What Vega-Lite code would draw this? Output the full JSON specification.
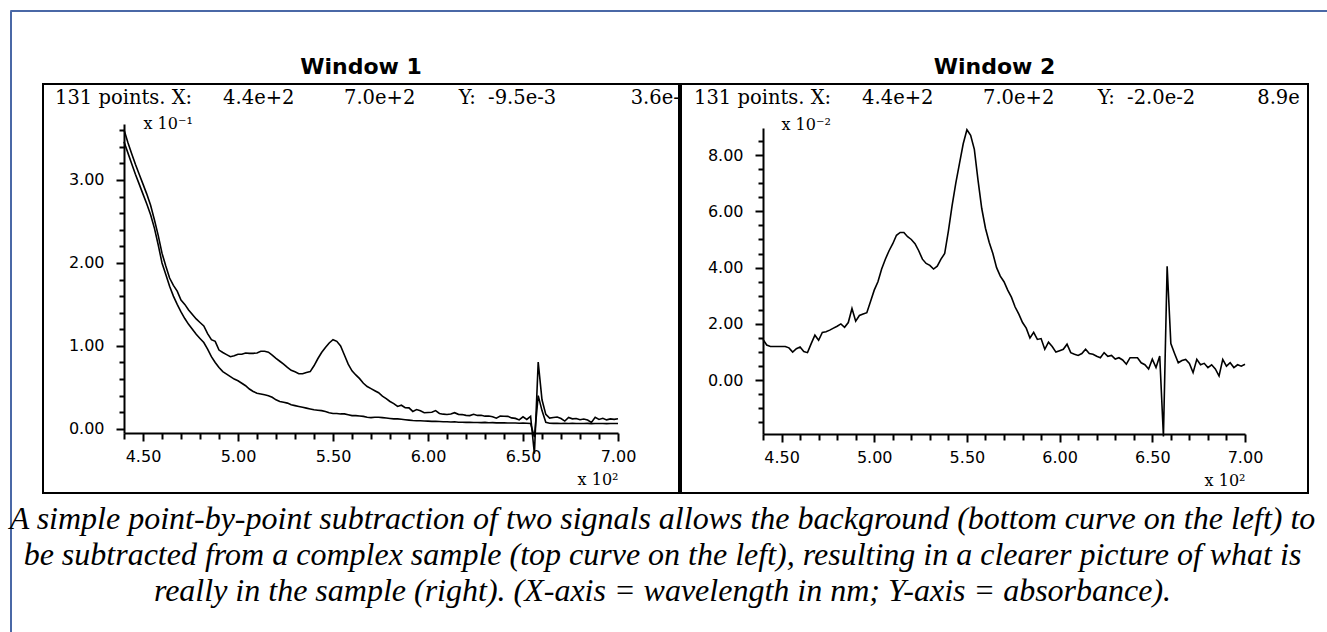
{
  "$schema": "https://vega.github.io/schema/vega-lite/v6.json",
  "background": "white",
  "padding": {"left": 9, "top": 9, "right": 0, "bottom": 0},
  "bounds": "flush",
  "spacing": 0,
  "config": {
    "view": {"stroke": "black", "strokeWidth": 2},
    "axis": {
      "domainColor": "black", "domainWidth": 2,
      "tickColor": "black", "tickWidth": 2,
      "labelColor": "black", "labelFont": "DejaVu Sans", "labelFontSize": 16,
      "titleColor": "black", "titleFont": "DejaVu Serif", "titleFontSize": 16, "titleFontWeight": "normal",
      "grid": false, "labelFlush": false, "labelOverlap": false
    }
  },
  "datasets": {
    "spectra": [
      {"nm": 440, "sample": 0.3605, "background": 0.346, "difference": 0.0145},
      {"nm": 442, "sample": 0.3455, "background": 0.333, "difference": 0.0125},
      {"nm": 444, "sample": 0.332, "background": 0.320, "difference": 0.012},
      {"nm": 446, "sample": 0.319, "background": 0.307, "difference": 0.012},
      {"nm": 448, "sample": 0.307, "background": 0.295, "difference": 0.012},
      {"nm": 450, "sample": 0.295, "background": 0.283, "difference": 0.012},
      {"nm": 452, "sample": 0.283, "background": 0.271, "difference": 0.012},
      {"nm": 454, "sample": 0.2695, "background": 0.258, "difference": 0.0115},
      {"nm": 456, "sample": 0.252, "background": 0.242, "difference": 0.010},
      {"nm": 458, "sample": 0.2332, "background": 0.222, "difference": 0.0112},
      {"nm": 460, "sample": 0.2118, "background": 0.200, "difference": 0.0118},
      {"nm": 462, "sample": 0.1962, "background": 0.186, "difference": 0.0102},
      {"nm": 464, "sample": 0.1818, "background": 0.172, "difference": 0.0098},
      {"nm": 466, "sample": 0.173, "background": 0.160, "difference": 0.013},
      {"nm": 468, "sample": 0.166, "background": 0.150, "difference": 0.016},
      {"nm": 470, "sample": 0.1552, "background": 0.141, "difference": 0.0142},
      {"nm": 472, "sample": 0.150, "background": 0.133, "difference": 0.017},
      {"nm": 474, "sample": 0.1432, "background": 0.126, "difference": 0.0172},
      {"nm": 476, "sample": 0.1378, "background": 0.120, "difference": 0.0178},
      {"nm": 478, "sample": 0.1325, "background": 0.114, "difference": 0.0185},
      {"nm": 480, "sample": 0.1282, "background": 0.109, "difference": 0.0192},
      {"nm": 482, "sample": 0.124, "background": 0.104, "difference": 0.020},
      {"nm": 484, "sample": 0.1148, "background": 0.096, "difference": 0.0188},
      {"nm": 486, "sample": 0.1075, "background": 0.087, "difference": 0.0205},
      {"nm": 488, "sample": 0.1055, "background": 0.080, "difference": 0.0255},
      {"nm": 490, "sample": 0.095, "background": 0.074, "difference": 0.021},
      {"nm": 492, "sample": 0.092, "background": 0.069, "difference": 0.023},
      {"nm": 494, "sample": 0.0895, "background": 0.066, "difference": 0.0235},
      {"nm": 496, "sample": 0.087, "background": 0.063, "difference": 0.024},
      {"nm": 498, "sample": 0.088, "background": 0.060, "difference": 0.028},
      {"nm": 500, "sample": 0.090, "background": 0.058, "difference": 0.032},
      {"nm": 502, "sample": 0.090, "background": 0.055, "difference": 0.035},
      {"nm": 504, "sample": 0.0915, "background": 0.052, "difference": 0.0395},
      {"nm": 506, "sample": 0.091, "background": 0.048, "difference": 0.043},
      {"nm": 508, "sample": 0.091, "background": 0.045, "difference": 0.046},
      {"nm": 510, "sample": 0.0915, "background": 0.043, "difference": 0.0485},
      {"nm": 512, "sample": 0.0935, "background": 0.042, "difference": 0.0515},
      {"nm": 514, "sample": 0.0935, "background": 0.041, "difference": 0.0525},
      {"nm": 516, "sample": 0.0925, "background": 0.040, "difference": 0.0525},
      {"nm": 518, "sample": 0.089, "background": 0.038, "difference": 0.051},
      {"nm": 520, "sample": 0.085, "background": 0.035, "difference": 0.050},
      {"nm": 522, "sample": 0.0815, "background": 0.033, "difference": 0.0485},
      {"nm": 524, "sample": 0.078, "background": 0.032, "difference": 0.046},
      {"nm": 526, "sample": 0.074, "background": 0.031, "difference": 0.043},
      {"nm": 528, "sample": 0.0705, "background": 0.029, "difference": 0.0415},
      {"nm": 530, "sample": 0.0688, "background": 0.028, "difference": 0.0408},
      {"nm": 532, "sample": 0.0665, "background": 0.027, "difference": 0.0395},
      {"nm": 534, "sample": 0.0665, "background": 0.026, "difference": 0.0405},
      {"nm": 536, "sample": 0.068, "background": 0.025, "difference": 0.043},
      {"nm": 538, "sample": 0.069, "background": 0.024, "difference": 0.045},
      {"nm": 540, "sample": 0.076, "background": 0.023, "difference": 0.053},
      {"nm": 542, "sample": 0.0845, "background": 0.0225, "difference": 0.062},
      {"nm": 544, "sample": 0.092, "background": 0.022, "difference": 0.070},
      {"nm": 546, "sample": 0.098, "background": 0.021, "difference": 0.077},
      {"nm": 548, "sample": 0.1035, "background": 0.0195, "difference": 0.084},
      {"nm": 550, "sample": 0.1075, "background": 0.0185, "difference": 0.089},
      {"nm": 552, "sample": 0.1055, "background": 0.0185, "difference": 0.087},
      {"nm": 554, "sample": 0.100, "background": 0.018, "difference": 0.082},
      {"nm": 556, "sample": 0.089, "background": 0.018, "difference": 0.071},
      {"nm": 558, "sample": 0.078, "background": 0.017, "difference": 0.061},
      {"nm": 560, "sample": 0.070, "background": 0.016, "difference": 0.054},
      {"nm": 562, "sample": 0.065, "background": 0.016, "difference": 0.049},
      {"nm": 564, "sample": 0.0605, "background": 0.0155, "difference": 0.045},
      {"nm": 566, "sample": 0.055, "background": 0.015, "difference": 0.040},
      {"nm": 568, "sample": 0.051, "background": 0.014, "difference": 0.037},
      {"nm": 570, "sample": 0.0485, "background": 0.0135, "difference": 0.035},
      {"nm": 572, "sample": 0.046, "background": 0.014, "difference": 0.032},
      {"nm": 574, "sample": 0.0435, "background": 0.014, "difference": 0.0295},
      {"nm": 576, "sample": 0.0395, "background": 0.0135, "difference": 0.026},
      {"nm": 578, "sample": 0.0365, "background": 0.013, "difference": 0.0235},
      {"nm": 580, "sample": 0.033, "background": 0.0125, "difference": 0.0205},
      {"nm": 582, "sample": 0.0305, "background": 0.012, "difference": 0.0185},
      {"nm": 584, "sample": 0.027, "background": 0.012, "difference": 0.015},
      {"nm": 586, "sample": 0.0285, "background": 0.0115, "difference": 0.017},
      {"nm": 588, "sample": 0.0255, "background": 0.011, "difference": 0.0145},
      {"nm": 590, "sample": 0.0253, "background": 0.0105, "difference": 0.0148},
      {"nm": 592, "sample": 0.021, "background": 0.010, "difference": 0.011},
      {"nm": 594, "sample": 0.0232, "background": 0.0097, "difference": 0.0135},
      {"nm": 596, "sample": 0.0217, "background": 0.0097, "difference": 0.012},
      {"nm": 598, "sample": 0.0195, "background": 0.0095, "difference": 0.010},
      {"nm": 600, "sample": 0.0198, "background": 0.0093, "difference": 0.0105},
      {"nm": 602, "sample": 0.020, "background": 0.009, "difference": 0.011},
      {"nm": 604, "sample": 0.022, "background": 0.0092, "difference": 0.0128},
      {"nm": 606, "sample": 0.0186, "background": 0.0088, "difference": 0.0098},
      {"nm": 608, "sample": 0.0177, "background": 0.0085, "difference": 0.0092},
      {"nm": 610, "sample": 0.0173, "background": 0.0085, "difference": 0.0088},
      {"nm": 612, "sample": 0.0178, "background": 0.0083, "difference": 0.0095},
      {"nm": 614, "sample": 0.0195, "background": 0.0085, "difference": 0.011},
      {"nm": 616, "sample": 0.0175, "background": 0.008, "difference": 0.0095},
      {"nm": 618, "sample": 0.0172, "background": 0.008, "difference": 0.0092},
      {"nm": 620, "sample": 0.0163, "background": 0.0078, "difference": 0.0085},
      {"nm": 622, "sample": 0.016, "background": 0.008, "difference": 0.008},
      {"nm": 624, "sample": 0.0175, "background": 0.0077, "difference": 0.0098},
      {"nm": 626, "sample": 0.0162, "background": 0.0077, "difference": 0.0085},
      {"nm": 628, "sample": 0.0163, "background": 0.0075, "difference": 0.0088},
      {"nm": 630, "sample": 0.0153, "background": 0.0078, "difference": 0.0075},
      {"nm": 632, "sample": 0.0154, "background": 0.0074, "difference": 0.008},
      {"nm": 634, "sample": 0.0147, "background": 0.0075, "difference": 0.0072},
      {"nm": 636, "sample": 0.0129, "background": 0.0072, "difference": 0.0057},
      {"nm": 638, "sample": 0.0154, "background": 0.0074, "difference": 0.008},
      {"nm": 640, "sample": 0.0152, "background": 0.0072, "difference": 0.008},
      {"nm": 642, "sample": 0.0151, "background": 0.0071, "difference": 0.008},
      {"nm": 644, "sample": 0.0132, "background": 0.007, "difference": 0.0062},
      {"nm": 646, "sample": 0.0126, "background": 0.0071, "difference": 0.0055},
      {"nm": 648, "sample": 0.0108, "background": 0.0068, "difference": 0.004},
      {"nm": 650, "sample": 0.0145, "background": 0.007, "difference": 0.0075},
      {"nm": 652, "sample": 0.0113, "background": 0.0068, "difference": 0.0045},
      {"nm": 654, "sample": 0.0151, "background": 0.0065, "difference": 0.0086},
      {"nm": 656, "sample": -0.030, "background": -0.010, "difference": -0.020},
      {"nm": 658, "sample": 0.0805, "background": 0.040, "difference": 0.0405},
      {"nm": 660, "sample": 0.035, "background": 0.022, "difference": 0.013},
      {"nm": 662, "sample": 0.0175, "background": 0.008, "difference": 0.0095},
      {"nm": 664, "sample": 0.013, "background": 0.0068, "difference": 0.0062},
      {"nm": 666, "sample": 0.0136, "background": 0.0066, "difference": 0.007},
      {"nm": 668, "sample": 0.0142, "background": 0.0068, "difference": 0.0074},
      {"nm": 670, "sample": 0.0125, "background": 0.0065, "difference": 0.006},
      {"nm": 672, "sample": 0.0094, "background": 0.0067, "difference": 0.0027},
      {"nm": 674, "sample": 0.0138, "background": 0.0064, "difference": 0.0074},
      {"nm": 676, "sample": 0.0121, "background": 0.0066, "difference": 0.0055},
      {"nm": 678, "sample": 0.0125, "background": 0.0065, "difference": 0.006},
      {"nm": 680, "sample": 0.011, "background": 0.0065, "difference": 0.0045},
      {"nm": 682, "sample": 0.0119, "background": 0.0064, "difference": 0.0055},
      {"nm": 684, "sample": 0.0106, "background": 0.0066, "difference": 0.004},
      {"nm": 686, "sample": 0.0078, "background": 0.0063, "difference": 0.0015},
      {"nm": 688, "sample": 0.0139, "background": 0.0065, "difference": 0.0074},
      {"nm": 690, "sample": 0.0114, "background": 0.0064, "difference": 0.005},
      {"nm": 692, "sample": 0.0127, "background": 0.0065, "difference": 0.0062},
      {"nm": 694, "sample": 0.0108, "background": 0.0063, "difference": 0.0045},
      {"nm": 696, "sample": 0.012, "background": 0.0065, "difference": 0.0055},
      {"nm": 698, "sample": 0.0114, "background": 0.0064, "difference": 0.005},
      {"nm": 700, "sample": 0.0122, "background": 0.0065, "difference": 0.0057}
    ]
  },
  "vconcat": [
    {
      "width": 1340,
      "height": 1,
      "view": {"stroke": "#4a68a6", "strokeWidth": 1},
      "data": {"values": []},
      "mark": "point"
    },
    {
      "bounds": "flush",
      "spacing": 32,
      "hconcat": [
        {
          "width": 1,
          "height": 640,
          "view": {"stroke": "#4a68a6", "strokeWidth": 1},
          "data": {"values": []},
          "mark": "point"
        },
        {
          "spacing": 38,
          "title": {
            "text": [
              "A simple point-by-point subtraction of two signals allows the background (bottom curve on the left) to",
              "be subtracted from a complex sample (top curve on the left), resulting in a clearer picture of what is",
              "really in the sample (right). (X-axis = wavelength in nm; Y-axis = absorbance)."
            ],
            "orient": "bottom", "anchor": "middle", "dx": -13, "offset": 10,
            "font": "Liberation Serif", "fontStyle": "italic", "fontSize": 32, "fontWeight": "normal",
            "lineHeight": 36, "color": "black"
          },
          "vconcat": [
            {
              "width": 1265,
              "height": 1,
              "view": {"stroke": null},
              "data": {"values": []},
              "mark": "point"
            },
            {
              "spacing": 0,
              "hconcat": [
                {
                  "bounds": "flush",
                  "spacing": 0,
                  "vconcat": [
                    {
                      "width": 636,
                      "height": 34,
                      "data": {"values": [{}]},
                      "mark": {"type": "text", "text": "Window 1", "font": "DejaVu Sans", "fontWeight": "bold", "fontSize": 22, "color": "black", "align": "center", "baseline": "middle"},
                      "title": {
                        "text": "131 points. X:\u00a0\u00a0\u00a0\u00a0\u00a04.4e+2\u00a0\u00a0\u00a0\u00a0\u00a0\u00a0\u00a0\u00a07.0e+2\u00a0\u00a0\u00a0\u00a0\u00a0\u00a0\u00a0Y:\u00a0\u00a0-9.5e-3\u00a0\u00a0\u00a0\u00a0\u00a0\u00a0\u00a0\u00a0\u00a0\u00a0\u00a0\u00a03.6e-",
                        "orient": "bottom", "anchor": "start", "dx": 12, "offset": 5,
                        "font": "DejaVu Serif", "fontSize": 19.5, "fontWeight": "normal", "color": "black"
                      }
                    },
                    {
                      "width": 636,
                      "height": 409,
                      "data": {"name": "spectra"},
                      "transform": [{"fold": ["sample", "background"], "as": ["series", "absorbance"]}],
                      "mark": {"type": "line", "color": "black", "strokeWidth": 1.6},
                      "encoding": {
                        "x": {
                          "field": "nm", "type": "quantitative",
                          "scale": {"domain": [440, 700], "range": [81, 575], "nice": false, "zero": false},
                          "axis": {
                            "orient": "bottom", "offset": -60,
                            "values": [440, 450, 460, 470, 480, 490, 500, 510, 520, 530, 540, 550, 560, 570, 580, 590, 600, 610, 620, 630, 640, 650, 660, 670, 680, 690, 700],
                            "labelExpr": "datum.value % 50 === 0 ? format(datum.value / 100, '.2f') : ''",
                            "tickSize": {"condition": {"test": "datum.value % 50 === 0", "value": 8}, "value": 6},
                            "labelPadding": 7, "labelDx": -5,
                            "title": "x 10\u00b2", "titleX": 575, "titleY": 46, "titleAlign": "right", "titleBaseline": "middle"
                          }
                        },
                        "y": {
                          "field": "absorbance", "type": "quantitative",
                          "scale": {"domain": [-0.005, 0.3675], "range": [349, 40], "nice": false, "zero": false},
                          "axis": {
                            "orient": "left", "offset": -81,
                            "values": [0, 0.02, 0.04, 0.06, 0.08, 0.1, 0.12, 0.14, 0.16, 0.18, 0.2, 0.22, 0.24, 0.26, 0.28, 0.3, 0.32, 0.34, 0.36],
                            "labelExpr": "round(datum.value * 100) % 10 === 0 ? format(datum.value * 10, '.2f') : ''",
                            "tickSize": {"condition": {"test": "round(datum.value * 100) % 10 === 0", "value": 8}, "value": 5},
                            "labelPadding": 12,
                            "title": "x 10\u207b\u00b9", "titleAngle": 0, "titleX": 19, "titleY": 39, "titleAlign": "left", "titleBaseline": "middle"
                          }
                        },
                        "detail": {"field": "series", "type": "nominal"}
                      }
                    }
                  ]
                },
                {
                  "bounds": "flush",
                  "spacing": 0,
                  "vconcat": [
                    {
                      "width": 627,
                      "height": 34,
                      "data": {"values": [{}]},
                      "mark": {"type": "text", "text": "Window 2", "font": "DejaVu Sans", "fontWeight": "bold", "fontSize": 22, "color": "black", "align": "center", "baseline": "middle"},
                      "title": {
                        "text": "131 points. X:\u00a0\u00a0\u00a0\u00a0\u00a04.4e+2\u00a0\u00a0\u00a0\u00a0\u00a0\u00a0\u00a0\u00a07.0e+2\u00a0\u00a0\u00a0\u00a0\u00a0\u00a0\u00a0Y:\u00a0\u00a0-2.0e-2\u00a0\u00a0\u00a0\u00a0\u00a0\u00a0\u00a0\u00a0\u00a0\u00a08.9e",
                        "orient": "bottom", "anchor": "start", "dx": 13, "offset": 5,
                        "font": "DejaVu Serif", "fontSize": 19.5, "fontWeight": "normal", "color": "black"
                      }
                    },
                    {
                      "width": 627,
                      "height": 409,
                      "data": {"name": "spectra"},
                      "mark": {"type": "line", "color": "black", "strokeWidth": 1.6},
                      "encoding": {
                        "x": {
                          "field": "nm", "type": "quantitative",
                          "scale": {"domain": [440, 700], "range": [82, 564], "nice": false, "zero": false},
                          "axis": {
                            "orient": "bottom", "offset": -59,
                            "values": [440, 450, 460, 470, 480, 490, 500, 510, 520, 530, 540, 550, 560, 570, 580, 590, 600, 610, 620, 630, 640, 650, 660, 670, 680, 690, 700],
                            "labelExpr": "datum.value % 50 === 0 ? format(datum.value / 100, '.2f') : ''",
                            "tickSize": {"condition": {"test": "datum.value % 50 === 0", "value": 8}, "value": 6},
                            "labelPadding": 7, "labelDx": -5,
                            "title": "x 10\u00b2", "titleX": 564, "titleY": 46, "titleAlign": "right", "titleBaseline": "middle"
                          }
                        },
                        "y": {
                          "field": "difference", "type": "quantitative",
                          "scale": {"domain": [-0.0191, 0.0896], "range": [350, 44], "nice": false, "zero": false},
                          "axis": {
                            "orient": "left", "offset": -82,
                            "values": [-0.015, -0.01, -0.005, 0, 0.005, 0.01, 0.015, 0.02, 0.025, 0.03, 0.035, 0.04, 0.045, 0.05, 0.055, 0.06, 0.065, 0.07, 0.075, 0.08, 0.085],
                            "labelExpr": "round(datum.value * 1000) % 20 === 0 ? format(datum.value * 100, '.2f') : ''",
                            "tickSize": {"condition": {"test": "round(datum.value * 1000) % 20 === 0", "value": 8}, "value": 5},
                            "labelPadding": 12,
                            "title": "x 10\u207b\u00b2", "titleAngle": 0, "titleX": 18, "titleY": 40, "titleAlign": "left", "titleBaseline": "middle"
                          }
                        }
                      }
                    }
                  ]
                }
              ]
            }
          ]
        }
      ]
    }
  ]
}
